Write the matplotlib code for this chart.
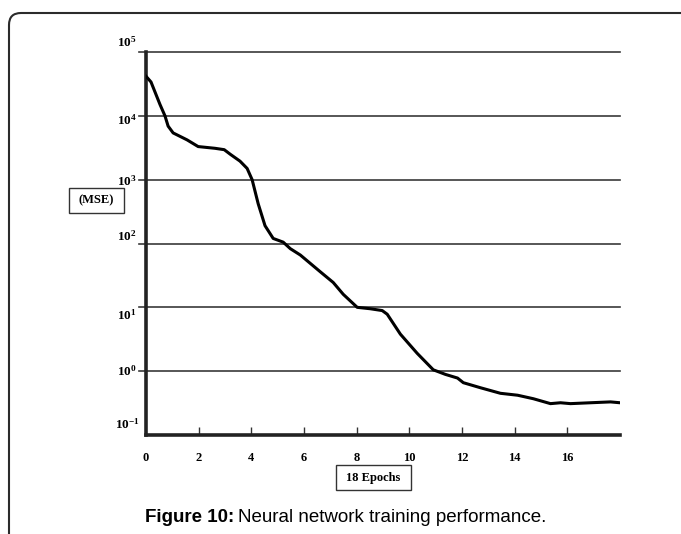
import matplotlib
matplotlib.use("Agg")
import matplotlib.pyplot as plt
from matplotlib.patches import FancyBboxPatch, Rectangle
from matplotlib.transforms import IdentityTransform, blended_transform_factory, ScaledTranslation

# Training curve: mean squared error per epoch
epochs = [0.00, 0.19, 0.53, 0.72, 0.84, 1.03, 1.56, 1.98, 2.62, 2.97, 3.20,
          3.57, 3.84, 4.03, 4.26, 4.52, 4.83, 5.21, 5.48, 5.86, 6.62, 7.11,
          7.49, 8.02, 8.52, 8.97, 9.16, 9.66, 10.30, 10.91, 11.37, 11.83,
          12.05, 12.70, 13.46, 14.11, 14.71, 15.36, 15.74, 16.12, 16.88,
          17.64, 18.00]
mse = [41700, 33900, 15100, 10000, 6900, 5400, 4200, 3300, 3100, 2950, 2500,
       1950, 1500, 1000, 420, 190, 120, 105, 83, 66, 36, 24.5,
       16, 10, 9.5, 8.9, 7.8, 3.8, 1.9, 1.05, 0.89, 0.78,
       0.66, 0.55, 0.45, 0.42, 0.37, 0.31, 0.32, 0.31, 0.32,
       0.33, 0.32]

x_ticks = [0, 2, 4, 6, 8, 10, 12, 14, 16]
y_decades = [5, 4, 3, 2, 1, 0, -1]
y_label_shift = [10, -4, -2, 7, -8, 0, 11]   # pixel nudges of the decade labels

plt.rcParams["mathtext.fontset"] = "custom"
plt.rcParams["mathtext.rm"] = "Liberation Serif:bold"
plt.rcParams["mathtext.bf"] = "Liberation Serif:bold"

W, H = 681, 534
fig = plt.figure(figsize=(W / 100, H / 100), dpi=100)
fig.patch.set_facecolor("white")

# Rounded frame around the figure (runs off the right and bottom edges)
frame = FancyBboxPatch((9, -60), 760, H - 13 + 60,
                       boxstyle="round,pad=0,rounding_size=12",
                       transform=IdentityTransform(), fill=False,
                       edgecolor="#2b2b2b", linewidth=1.5)
fig.add_artist(frame)

ax = fig.add_axes([146 / W, 1 - 435 / H, (620 - 146) / W, (435 - 52) / H])
ax.set_yscale("log")
ax.set_xlim(0, 18)
ax.set_ylim(1e-1, 1e5)

# horizontal grid at each decade, poking slightly left of the y axis
for d in y_decades[:-1]:
    ax.plot([-0.25, 18], [10.0 ** d, 10.0 ** d], color="#3a3a3a", lw=1.2,
            clip_on=False, zorder=1)

ax.plot(epochs, mse, color="black", lw=2.2, zorder=3)

for s in ("top", "right"):
    ax.spines[s].set_visible(False)
for s in ("left", "bottom"):
    ax.spines[s].set_linewidth(2.6)
    ax.spines[s].set_color("#222222")

ax.set_yticks([])
ax.minorticks_off()
ax.set_xticks(x_ticks[1:])
ax.set_xticklabels([])
ax.tick_params(axis="x", direction="in", length=6, width=1, color="#333333")

# x tick labels
xtrans = blended_transform_factory(ax.transData, ax.transAxes)
for v in x_ticks:
    ax.text(v, -0.045, str(v), transform=xtrans,
            ha="center", va="top", fontsize=9, fontweight="bold",
            family="Liberation Serif")

# decade labels on the y axis
ytrans = blended_transform_factory(ax.transAxes, ax.transData)
for d, sh in zip(y_decades, y_label_shift):
    ax.text(-0.040, 10.0 ** d, r"$\mathbf{10^{%d}}$" % d,
            transform=ytrans + ScaledTranslation(0, sh / 100, fig.dpi_scale_trans),
            ha="center", va="center", fontsize=9.5)

# boxed axis titles
fig.add_artist(Rectangle((69, H - 213), 55, 25, transform=IdentityTransform(),
                         fill=False, edgecolor="#333333", lw=1.0))
fig.text((69 + 124) / 2 / W, 1 - 200.5 / H, "(MSE)", ha="center", va="center",
         fontsize=9, fontweight="bold", family="Liberation Serif")

fig.add_artist(Rectangle((336, H - 490), 75, 25, transform=IdentityTransform(),
                         fill=False, edgecolor="#333333", lw=1.0))
fig.text((336 + 411) / 2 / W, 1 - 477.5 / H, "18 Epochs", ha="center", va="center",
         fontsize=9, fontweight="bold", family="Liberation Serif")

# caption
cap_y = 1 - 517 / H
t1 = fig.text(145 / W, cap_y, "Figure 10:", ha="left", va="center",
              fontsize=13.5, fontweight="bold", family="Liberation Sans")
fig.canvas.draw()
bb = t1.get_window_extent()
fig.text(bb.x1 / W + 4 / W, cap_y, "Neural network training performance.",
         ha="left", va="center", fontsize=13.5, family="Liberation Sans")

fig.savefig("out.png", dpi=100, facecolor="white")
